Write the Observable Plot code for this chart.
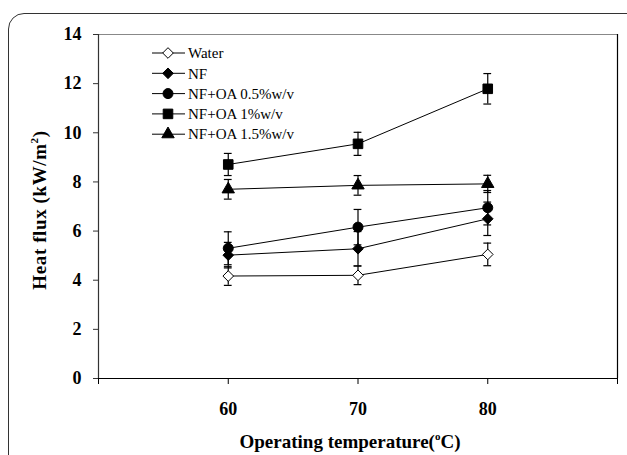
<!DOCTYPE html>
<html><head><meta charset="utf-8">
<script src="https://cdn.jsdelivr.net/npm/d3@7"></script>
<script src="https://cdn.jsdelivr.net/npm/@observablehq/plot@0.6"></script>
<style>
body{margin:0;background:#fff;}
#wrap{position:relative;width:627px;height:455px;overflow:hidden;background:#fff;}
#box{position:absolute;left:8px;top:13px;width:640px;height:520px;border:1.5px solid #333;border-radius:16px;}
#chart{position:absolute;left:0;top:0;}
#chart svg text{font-family:"Times New Roman","Liberation Serif",serif !important;}
</style></head><body>
<div id="wrap"><div id="box"></div><div id="chart"></div></div>
<script>
const temps = [60, 70, 80];
const xTicks = [50, 60, 70, 80, 90];
const yTicks = [0, 2, 4, 6, 8, 10, 12, 14];
const seriesNames = ["Water", "NF", "NF+OA 0.5%w/v", "NF+OA 1%w/v", "NF+OA 1.5%w/v"];
const seriesSymbols = ["diamond2", "diamond2", "circle", "square", "triangle"];
const seriesFills = ["white", "black", "black", "black", "black"];
const seriesR = [4.8, 4.8, 5, 5.4, 4.6];
const waterVals = [4.17, 4.2, 5.05];
const waterErr = [0.38, 0.38, 0.46];
const nfVals = [5.02, 5.28, 6.5];
const nfErr = [0.52, 0.7, 0.68];
const oa05Vals = [5.3, 6.16, 6.95];
const oa05Err = [0.67, 0.72, 0.7];
const oa1Vals = [8.71, 9.55, 11.79];
const oa1Err = [0.45, 0.47, 0.62];
const oa15Vals = [7.7, 7.86, 7.92];
const oa15Err = [0.4, 0.4, 0.35];

const allVals = [waterVals, nfVals, oa05Vals, oa1Vals, oa15Vals];
const allErr = [waterErr, nfErr, oa05Err, oa1Err, oa15Err];
const data = [];
seriesNames.forEach((s, i) => temps.forEach((t, j) => data.push({series: s, idx: i, t, v: allVals[i][j], e: allErr[i][j]})));

const capHalf = 0.3;
const font = "Times New Roman";

const dotMarks = seriesNames.map((s, i) =>
  Plot.dot(data.filter(d => d.idx === i), {x: "t", y: "v", symbol: seriesSymbols[i], r: seriesR[i],
    fill: seriesFills[i], stroke: "black", strokeWidth: 1}));

const chart = Plot.plot({
  width: 627, height: 455,
  marginLeft: 98, marginRight: 10, marginTop: 34, marginBottom: 77,
  style: {fontFamily: font, fontSize: "16px", fontWeight: "bold", color: "black", background: "transparent"},
  x: {domain: [50, 90]},
  y: {domain: [0, 14]},
  marks: [
    Plot.ruleY([14], {stroke: "#888", strokeWidth: 1.2}),
    Plot.ruleX([90], {stroke: "black", strokeWidth: 1.2}),
    Plot.ruleX([50], {stroke: "#333", strokeWidth: 1.2}),
    Plot.ruleY([0], {stroke: "black", strokeWidth: 1.2}),
    Plot.axisY({ticks: yTicks, tickSize: 5, tickPadding: 12, label: null, fontSize: 18, fontWeight: "bold", stroke: "#333"}),
    Plot.axisX({ticks: xTicks, tickSize: 6, tickPadding: 18, label: null, fontSize: 18, fontWeight: "bold",
      tickFormat: d => (d === 50 || d === 90) ? "" : String(d)}),
    Plot.line(data, {x: "t", y: "v", z: "series", stroke: "black", strokeWidth: 1}),
    Plot.ruleX(data, {x: "t", y1: d => d.v - d.e, y2: d => d.v + d.e, stroke: "black", strokeWidth: 1.2}),
    Plot.ruleY(data, {y: d => d.v + d.e, x1: d => d.t - capHalf, x2: d => d.t + capHalf, stroke: "black", strokeWidth: 1.2}),
    Plot.ruleY(data, {y: d => d.v - d.e, x1: d => d.t - capHalf, x2: d => d.t + capHalf, stroke: "black", strokeWidth: 1.2}),
    ...dotMarks
  ]
});
document.getElementById("chart").appendChild(chart);

const svg = d3.select(chart);
// Y axis title
const yt = svg.append("text")
  .attr("transform", "translate(46,210) rotate(-90)")
  .attr("text-anchor", "middle")
  .style("font-size", "19px").style("font-weight", "bold").style("letter-spacing", "0.6px")
  .attr("fill", "black");
yt.append("tspan").text("Heat flux (kW/m");
yt.append("tspan").attr("dy", "-8px").style("font-size", "11px").text("2");
yt.append("tspan").attr("dy", "8px").text(")");

// X axis title
const xt = svg.append("text")
  .attr("x", 350).attr("y", 448)
  .attr("text-anchor", "middle")
  .style("font-size", "19px").style("font-weight", "bold")
  .attr("fill", "black");
xt.append("tspan").text("Operating temperature(");
xt.append("tspan").attr("dy", "-8px").style("font-size", "11px").text("o");
xt.append("tspan").attr("dy", "8px").text("C)");

// Legend
const lg = svg.append("g");
seriesNames.forEach((s, i) => {
  const y = 53 + i * 20.3;
  lg.append("line").attr("x1", 152).attr("x2", 185).attr("y1", y).attr("y2", y).attr("stroke", "black").attr("stroke-width", 1);
  const symType = {diamond2: d3.symbolDiamond2, circle: d3.symbolCircle, square: d3.symbolSquare, triangle: d3.symbolTriangle}[seriesSymbols[i]];
  lg.append("path").attr("transform", `translate(168,${y})`)
    .attr("d", d3.symbol(symType, Math.PI * seriesR[i] * seriesR[i])())
    .attr("fill", seriesFills[i]).attr("stroke", "black").attr("stroke-width", 1);
  lg.append("text").attr("x", 188).attr("y", y).attr("dy", "0.35em")
    .attr("text-anchor", "start")
    .style("font-size", "15px").style("font-weight", "normal")
    .attr("fill", "black").text(s);
});
</script>
</body></html>
